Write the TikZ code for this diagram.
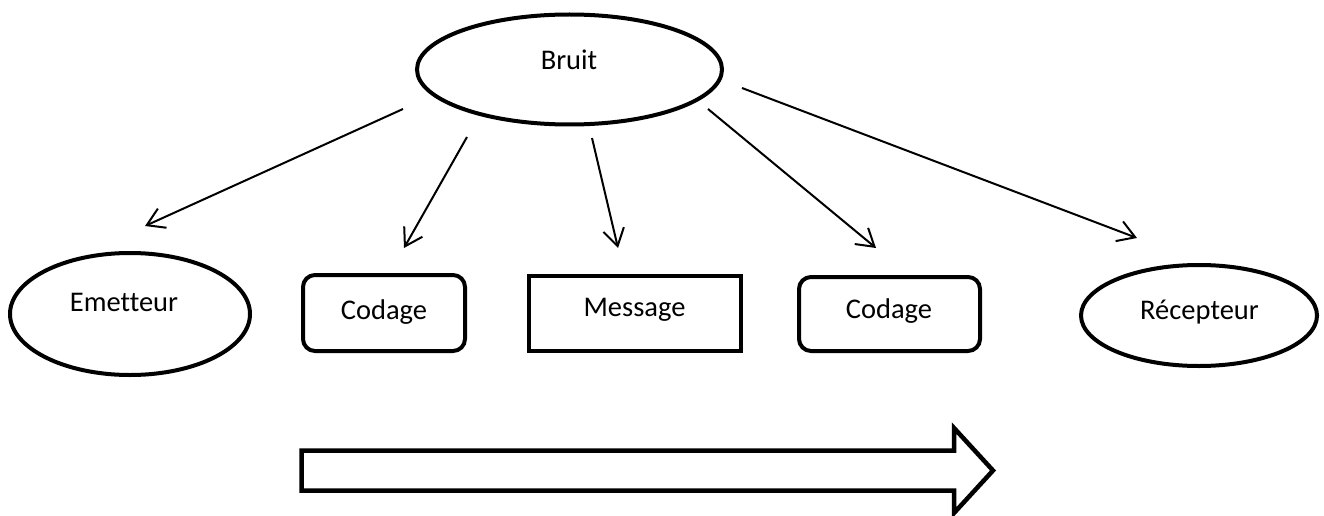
\documentclass[tikz,border=0pt]{standalone}
\usepackage{fontspec}
\setmainfont{Carlito}[Ligatures=NoCommon]
\usetikzlibrary{shapes.geometric,arrows.meta}
\begin{document}
\begin{tikzpicture}[x=1pt,y=-1pt,
  shapeline/.style={draw=black,line width=4pt},
  oval/.style={shapeline,ellipse,inner sep=0pt},
  roundbox/.style={shapeline,rectangle,rounded corners=12pt,inner sep=0pt},
  sharpbox/.style={shapeline,rectangle,inner sep=0pt},
  lbl/.style={anchor=base,inner sep=0pt,font=\fontsize{28.5}{34}\selectfont},
  conn/.style={line width=2pt,-{Straight Barb[length=17pt,width=21pt]}},
  flowarrow/.style={line width=4.5pt,miter limit=10}]
\useasboundingbox (0,0) rectangle (1324,516);
% shapes
\node[oval, minimum width=305pt, minimum height=110pt] (bruit) at (569.5,69.5) {};
\node[oval, minimum width=240pt, minimum height=122pt] (emetteur) at (130,314) {};
\node[roundbox, minimum width=162pt, minimum height=76pt] (codage1) at (384,313) {};
\node[sharpbox, minimum width=212pt, minimum height=75pt] (message) at (635,313.5) {};
\node[roundbox, minimum width=181pt, minimum height=74pt] (codage2) at (889.5,314) {};
\node[oval, minimum width=236pt, minimum height=101pt] (recepteur) at (1199,315.5) {};
% texts
\node[lbl] (bruitt) at (569,70) {Bruit};
\node[lbl] (emett) at (124,311.7) {Emetteur};
\node[lbl] (cod1t) at (384,319) {Codage};
\node[lbl] (mest) at (634.5,316) {Message};
\node[lbl] (cod2t) at (889,318) {Codage};
\node[lbl] (rect) at (1199.5,319) {Récepteur};
% connector ends
\coordinate (s1) at (403,109);  \coordinate (t1) at (145,226);
\coordinate (s2) at (467,137);  \coordinate (t2) at (404,248);
\coordinate (s3) at (592,138);  \coordinate (t3) at (618,248);
\coordinate (s4) at (708,109);  \coordinate (t4) at (876,248);
\coordinate (s5) at (742,88);   \coordinate (t5) at (1137,238);
\draw[conn] (s1) -- (t1);
\draw[conn] (s2) -- (t2);
\draw[conn] (s3) -- (t3);
\draw[conn] (s4) -- (t4);
\draw[conn] (s5) -- (t5);
% big flow arrow
\draw[flowarrow] (301.5,450.5) -- (954,450.5) -- (954,428) -- (993,470.5)
  -- (954,513) -- (954,490.5) -- (301.5,490.5) -- cycle;
\end{tikzpicture}
\end{document}
